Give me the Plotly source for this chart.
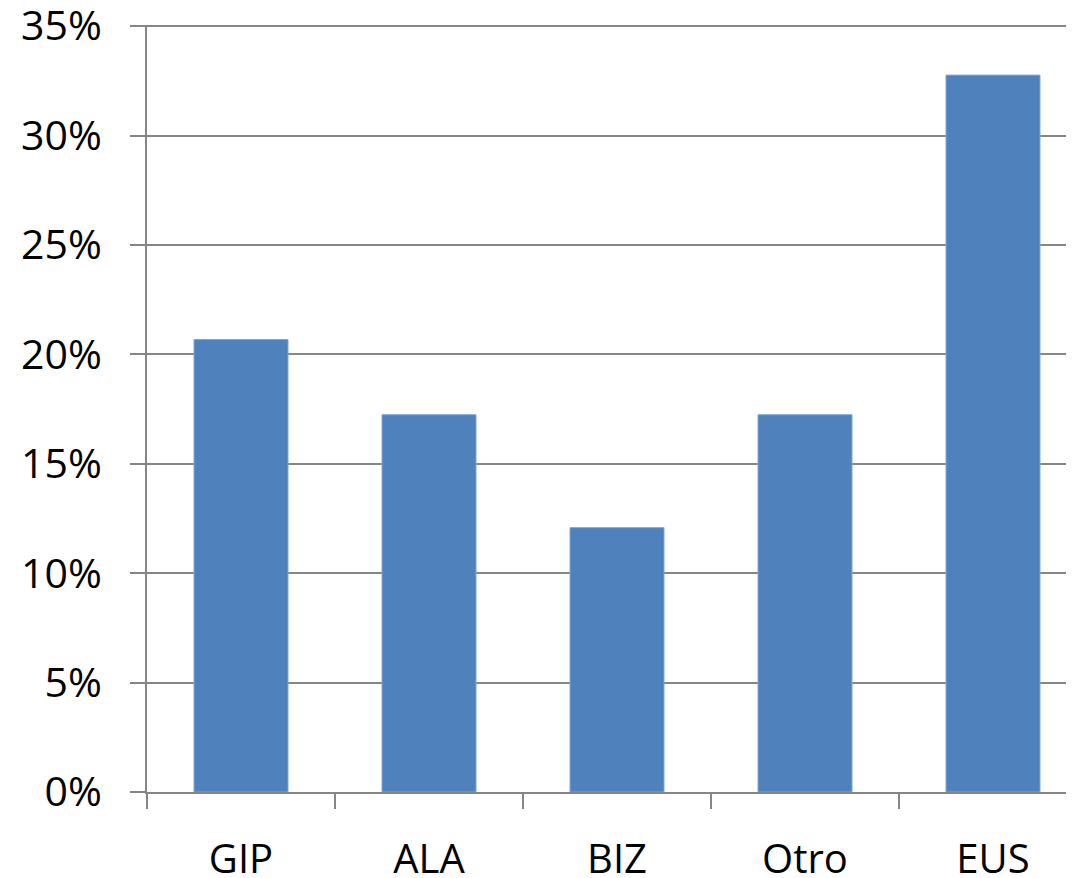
import plotly.graph_objects as go

categories = ["GIP", "ALA", "BIZ", "Otro", "EUS"]
values = [0.2068, 0.1724, 0.1208, 0.1724, 0.3276]
y_ticks = [0, 0.05, 0.10, 0.15, 0.20, 0.25, 0.30, 0.35]

# page body has an 8px margin; compensate so the plot lands where the reference has it
OFF = 8
W, H = 1074 - OFF, 878 - OFF
plot_left, plot_top, plot_bottom = 147 - OFF, 26 - OFF, 792 - OFF
y_max = 0.3505
cat_px = 188.0
right_extra = (147 + 5 * cat_px - 1074) / cat_px

fig = go.Figure(go.Bar(
    x=categories, y=values, width=0.5,
    marker=dict(color="#4F81BD", line=dict(color="#7FA6D6", width=1)),
))

fig.update_layout(
    width=W, height=H,
    margin=dict(l=plot_left, r=0, t=plot_top - 1, b=H - plot_bottom, pad=0, autoexpand=False),
    paper_bgcolor="white", plot_bgcolor="white",
    font=dict(family="Open Sans", size=40, color="black"),
    showlegend=False,
)
fig.update_xaxes(
    range=[-0.5, 4.5 - right_extra], automargin=False,
    showline=True, linecolor="#868686", linewidth=2,
    ticks="outside", tickson="boundaries", ticklen=15, tickwidth=2, tickcolor="#868686",
    showgrid=False, ticklabelstandoff=31,
    tickfont=dict(size=40),
)
fig.update_yaxes(
    range=[0, y_max], tickvals=y_ticks, tickformat=".0%", automargin=False,
    showline=True, linecolor="#868686", linewidth=2,
    showgrid=True, gridcolor="#868686", gridwidth=2,
    ticks="outside", ticklen=15, tickwidth=2, tickcolor="#868686",
    ticklabelstandoff=20, zeroline=False, ticklabeloverflow="allow",
    tickfont=dict(size=41),
)
fig.write_html("out.html")
